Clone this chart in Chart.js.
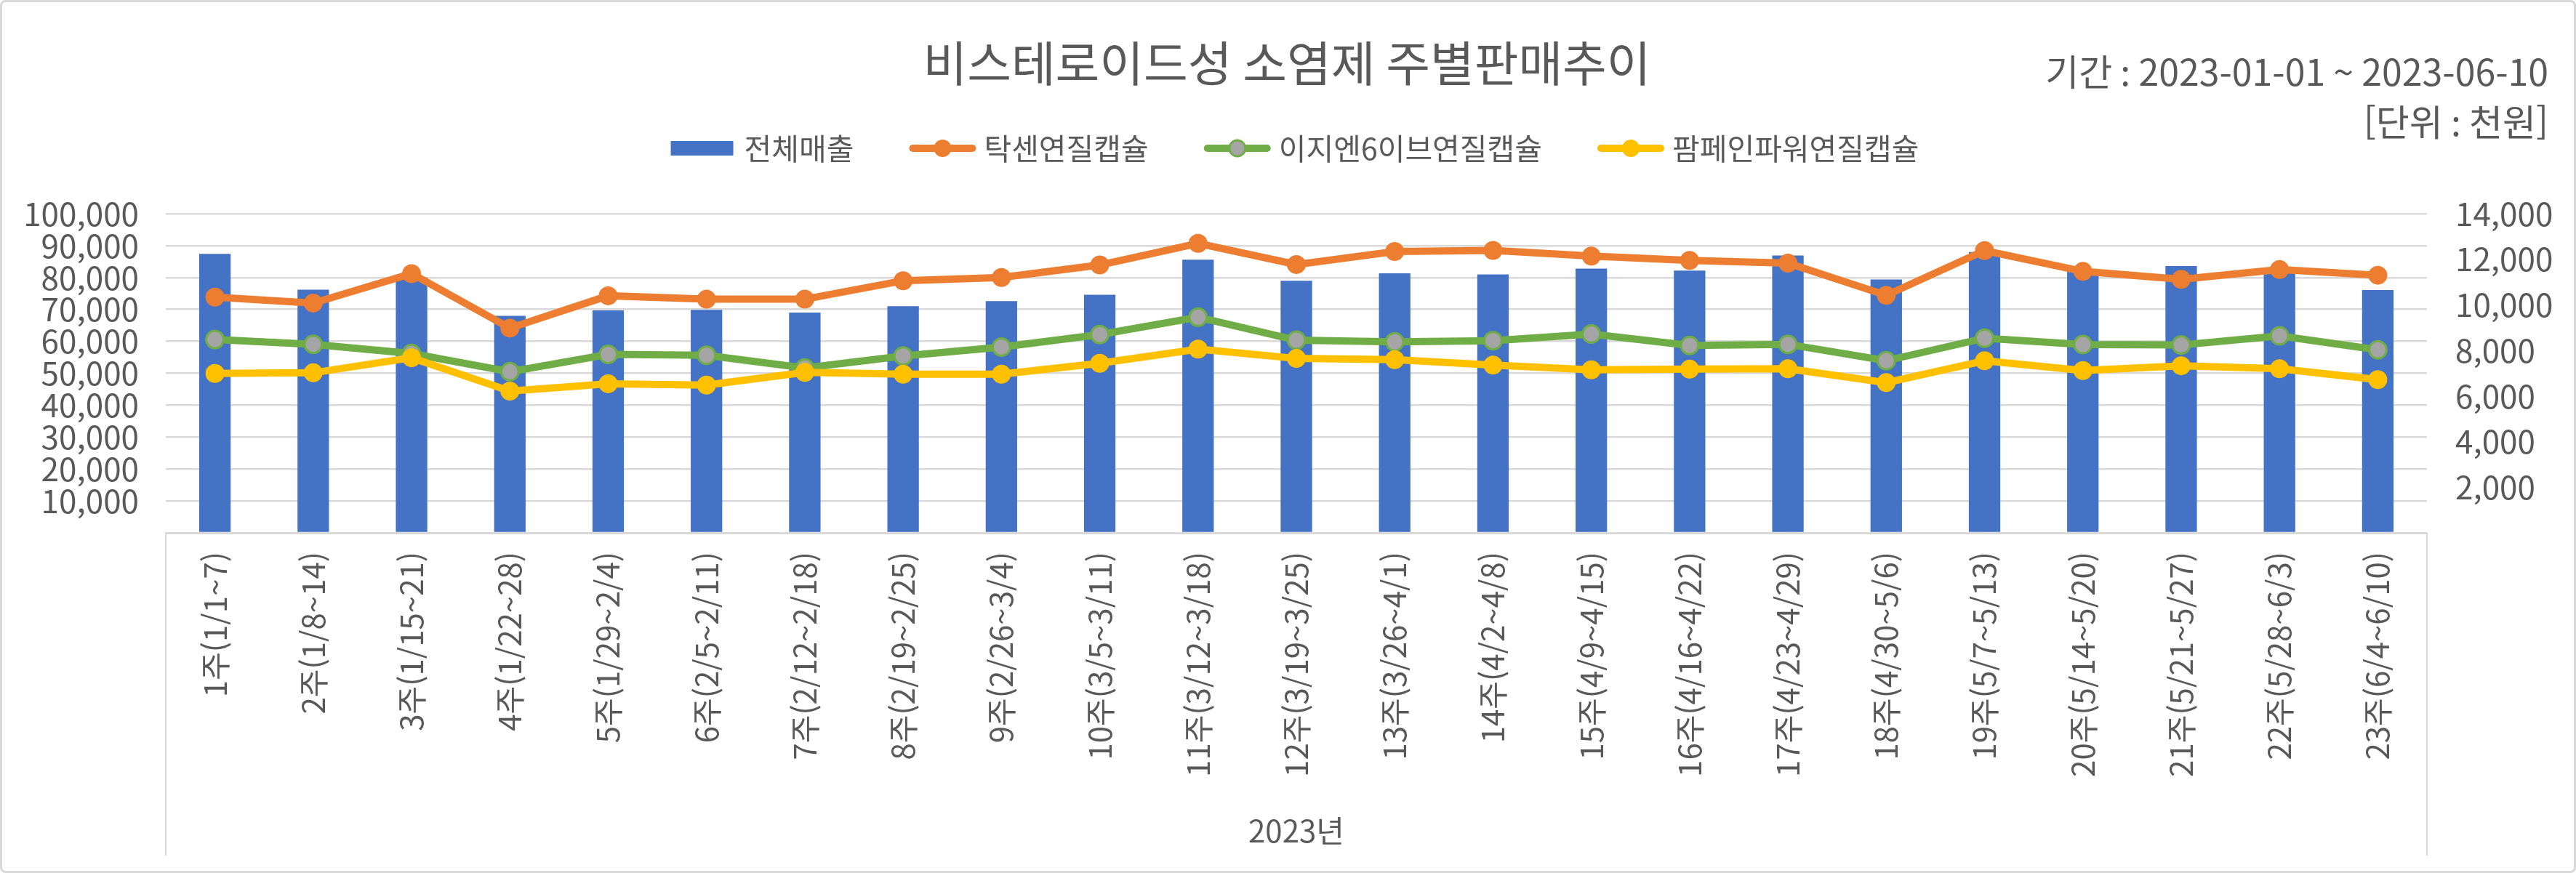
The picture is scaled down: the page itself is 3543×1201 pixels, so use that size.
<!DOCTYPE html>
<html lang="ko">
<head>
<meta charset="utf-8">
<title>비스테로이드성 소염제 주별판매추이</title>
<script src="https://cdn.jsdelivr.net/npm/chart.js@4.4.1/dist/chart.umd.min.js"></script>
<style>
  html, body { margin: 0; padding: 0; background: #ffffff; }
  #wrap { width: 3543px; height: 1201px; position: relative; }
  canvas { display: block; }
</style>
</head>
<body>
<div id="wrap"><canvas id="c" width="3543" height="1201"></canvas></div>
<script>
// ---------------- data ----------------
const chartTitle = '비스테로이드성 소염제 주별판매추이';
const periodText = '기간 : 2023-01-01 ~ 2023-06-10';
const unitText = '[단위 : 천원]';
const xAxisTitle = '2023년';

const weeks = [
  '1주(1/1~7)', '2주(1/8~14)', '3주(1/15~21)', '4주(1/22~28)', '5주(1/29~2/4)',
  '6주(2/5~2/11)', '7주(2/12~2/18)', '8주(2/19~2/25)', '9주(2/26~3/4)', '10주(3/5~3/11)',
  '11주(3/12~3/18)', '12주(3/19~3/25)', '13주(3/26~4/1)', '14주(4/2~4/8)', '15주(4/9~4/15)',
  '16주(4/16~4/22)', '17주(4/23~4/29)', '18주(4/30~5/6)', '19주(5/7~5/13)', '20주(5/14~5/20)',
  '21주(5/21~5/27)', '22주(5/28~6/3)', '23주(6/4~6/10)'
];

const seriesNames = ['전체매출', '탁센연질캡슐', '이지엔6이브연질캡슐', '팜페인파워연질캡슐'];

const totalSales = [87400, 76200, 80000, 68000, 69700, 69900, 69000, 71000, 72600, 74600,
  85600, 79000, 81300, 81000, 82800, 82200, 86900, 79400, 88000, 82000, 83600, 82500, 76100];

const taxen = [10340, 10080, 11370, 8980, 10400, 10250, 10250, 11060, 11200, 11750,
  12700, 11770, 12340, 12390, 12140, 11950, 11830, 10420, 12380, 11470, 11120, 11550, 11300];

const ezn6 = [8480, 8270, 7870, 7070, 7830, 7790, 7230, 7760, 8150, 8700,
  9460, 8450, 8380, 8430, 8720, 8220, 8270, 7550, 8540, 8260, 8240, 8640, 8030];

const pampain = [6990, 7020, 7680, 6220, 6540, 6480, 7040, 6960, 6960, 7440,
  8060, 7650, 7600, 7360, 7150, 7180, 7200, 6590, 7550, 7120, 7330, 7200, 6720];

const leftTicks = [0, 10000, 20000, 30000, 40000, 50000, 60000, 70000, 80000, 90000, 100000];
const rightTicks = [0, 2000, 4000, 6000, 8000, 10000, 12000, 14000];

// ---------------- styles ----------------
const FONT = "'Noto Sans CJK KR', 'Noto Sans', sans-serif";
const TEXT = '#595959';
const GRID = '#d9d9d9';
const C_BAR = '#4472c4', C_OR = '#ed7d31', C_GR = '#70ad47', C_GRAY = '#a5a5a5', C_YL = '#ffc000';

const fmt = v => v === 0 ? '' : v.toLocaleString('en-US');

// decorations: title, period, unit, legend, frame, category box lines
const decor = {
  id: 'decor',
  beforeDraw(chart) {
    const ctx = chart.ctx;
    ctx.save();
    ctx.fillStyle = '#ffffff';
    ctx.fillRect(0, 0, chart.width, chart.height);
    ctx.restore();
  },
  afterDraw(chart) {
    const ctx = chart.ctx;
    const W = chart.width, H = chart.height;
    const ca = chart.chartArea;
    ctx.save();
    // outer frame
    ctx.strokeStyle = GRID;
    ctx.lineWidth = 3;
    ctx.beginPath();
    if (ctx.roundRect) ctx.roundRect(1.5, 1.5, W - 3, H - 3, 6); else ctx.rect(1.5, 1.5, W - 3, H - 3);
    ctx.stroke();

    // category box vertical lines
    ctx.strokeStyle = GRID;
    ctx.lineWidth = 2;
    ctx.beginPath();
    ctx.moveTo(ca.left, ca.bottom); ctx.lineTo(ca.left, H - 24);
    ctx.moveTo(ca.right, ca.bottom); ctx.lineTo(ca.right, H - 24);
    ctx.stroke();

    // title
    ctx.fillStyle = TEXT;
    ctx.textBaseline = 'middle';
    ctx.textAlign = 'center';
    ctx.font = '66px ' + FONT;
    ctx.fillText(chartTitle, 1770, 87);

    // period and unit
    ctx.textAlign = 'right';
    ctx.font = '50px ' + FONT;
    ctx.fillText(periodText, 3505, 99);
    ctx.fillText(unitText, 3505, 168);

    // legend
    const ds = chart.data.datasets;
    ctx.font = '41px ' + FONT;
    const boxW = 92, gap = 11, spacing = 76, ly = 204;
    const widths = ds.map(d => ctx.measureText(d.label).width);
    let total = 0;
    ds.forEach((d, i) => { total += boxW + gap + widths[i]; });
    total += spacing * (ds.length - 1);
    let x = 1780 - total / 2;
    ds.forEach((d, i) => {
      if (d.type === 'bar') {
        ctx.fillStyle = d.backgroundColor;
        ctx.fillRect(x + 2, ly - 10, boxW - 6, 20);
      } else {
        ctx.strokeStyle = d.borderColor;
        ctx.lineWidth = 10;
        ctx.lineCap = 'round';
        ctx.beginPath();
        ctx.moveTo(x + 5, ly); ctx.lineTo(x + boxW - 5, ly);
        ctx.stroke();
        ctx.beginPath();
        ctx.arc(x + boxW / 2, ly, 11, 0, Math.PI * 2);
        ctx.fillStyle = d.pointBackgroundColor;
        ctx.fill();
        ctx.lineWidth = d.pointBorderWidth;
        ctx.strokeStyle = d.pointBorderColor;
        ctx.stroke();
      }
      ctx.fillStyle = TEXT;
      ctx.textAlign = 'left';
      ctx.textBaseline = 'middle';
      ctx.fillText(d.label, x + boxW + gap, ly);
      x += boxW + gap + widths[i] + spacing;
    });
    ctx.restore();
  }
};

function build() {
  Chart.defaults.font.family = FONT;
  Chart.defaults.color = TEXT;
  const ctx = document.getElementById('c').getContext('2d');
  new Chart(ctx, {
    data: {
      labels: weeks,
      datasets: [
        {
          type: 'bar', label: seriesNames[0], data: totalSales, yAxisID: 'y',
          backgroundColor: C_BAR, borderWidth: 0, barPercentage: 0.32, categoryPercentage: 1, order: 4
        },
        {
          type: 'line', label: seriesNames[1], data: taxen, yAxisID: 'y1',
          borderColor: C_OR, backgroundColor: C_OR, borderWidth: 10, tension: 0,
          pointRadius: 12, pointBackgroundColor: C_OR, pointBorderColor: C_OR, pointBorderWidth: 2, order: 3
        },
        {
          type: 'line', label: seriesNames[2], data: ezn6, yAxisID: 'y1',
          borderColor: C_GR, backgroundColor: C_GR, borderWidth: 10, tension: 0,
          pointRadius: 12, pointBackgroundColor: C_GRAY, pointBorderColor: C_GR, pointBorderWidth: 3, order: 2
        },
        {
          type: 'line', label: seriesNames[3], data: pampain, yAxisID: 'y1',
          borderColor: C_YL, backgroundColor: C_YL, borderWidth: 10, tension: 0,
          pointRadius: 12, pointBackgroundColor: C_YL, pointBorderColor: C_YL, pointBorderWidth: 2, order: 1
        }
      ]
    },
    options: {
      responsive: false,
      animation: false,
      devicePixelRatio: 1,
      layout: { padding: { top: 294, bottom: 0, left: 0, right: 0 } },
      plugins: { legend: { display: false }, title: { display: false }, tooltip: { enabled: false } },
      scales: {
        x: {
          type: 'category',
          offset: true,
          grid: { display: false, drawTicks: false },
          border: { display: true, color: GRID, width: 3 },
          ticks: { autoSkip: false, maxRotation: 90, minRotation: 90, padding: 26, color: TEXT, font: { size: 42 } },
          title: { display: true, text: xAxisTitle, color: TEXT, font: { size: 42 }, padding: { top: 0, bottom: 33 } },
          afterFit: s => { s.height = 468; }
        },
        y: {
          type: 'linear', position: 'left',
          min: leftTicks[0], max: leftTicks[leftTicks.length - 1],
          afterBuildTicks: s => { s.ticks = leftTicks.map(v => ({ value: v })); },
          grid: { color: GRID, lineWidth: 2.5, drawTicks: false },
          border: { display: false },
          ticks: { autoSkip: false, padding: 37, color: TEXT, font: { size: 44 }, callback: v => fmt(v) },
          afterFit: s => { s.width = 228; }
        },
        y1: {
          type: 'linear', position: 'right',
          min: rightTicks[0], max: rightTicks[rightTicks.length - 1],
          afterBuildTicks: s => { s.ticks = rightTicks.map(v => ({ value: v })); },
          grid: { display: false, drawTicks: false },
          border: { display: false },
          ticks: { autoSkip: false, padding: 39, color: TEXT, font: { size: 44 }, callback: v => fmt(v) },
          afterFit: s => { s.width = 205; }
        }
      }
    },
    plugins: [decor]
  });
}

const fontReady = (document.fonts && document.fonts.load)
  ? Promise.all([document.fonts.load("40px 'Noto Sans CJK KR'", '가2')]).catch(() => null)
  : Promise.resolve();
fontReady.then(build, build);
</script>
</body>
</html>
